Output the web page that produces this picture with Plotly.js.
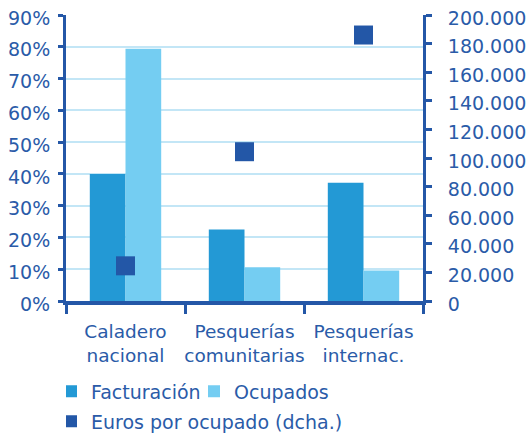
<!DOCTYPE html>
<html>
<head>
<meta charset="utf-8">
<script src="https://cdn.plot.ly/plotly-3.0.1.min.js"></script>
<style>
  html, body { margin: 0; padding: 0; background: #fff; }
  #chart { width: 528px; height: 435px; }
</style>
</head>
<body>
<div id="chart"></div>
<script>
// Data
const categories = ['Caladero<br>nacional', 'Pesquerías<br>comunitarias', 'Pesquerías<br>internac.'];
const facturacion = [40.0, 22.5, 37.2];      // % (left axis)
const ocupados = [79.4, 10.6, 9.6];          // % (left axis)
const eurosPorOcupado = [24600, 104400, 186000]; // euros (right axis)

const leftTicks = [0, 10, 20, 30, 40, 50, 60, 70, 80, 90];
const rightTicks = [0, 20000, 40000, 60000, 80000, 100000, 120000, 140000, 160000, 180000, 200000];

const txt = '#2A5BA8';
const axisCol = '#2457A7';
const font = 'DejaVu Sans, Verdana, sans-serif';

const traces = [
  { type: 'bar', name: 'Facturación', x: categories, y: facturacion,
    marker: { color: '#2399D5' }, hoverinfo: 'skip', legend: 'legend' },
  { type: 'bar', name: 'Ocupados', x: categories, y: ocupados,
    marker: { color: '#74CDF2' }, hoverinfo: 'skip', legend: 'legend' },
  { type: 'scatter', mode: 'markers', name: 'Euros por ocupado (dcha.)',
    x: categories, y: eurosPorOcupado, yaxis: 'y2', legend: 'legend2',
    marker: { symbol: 'square', size: 19, color: '#2357A7' }, hoverinfo: 'skip' }
];

const legendBase = {
  orientation: 'h', xref: 'paper', yref: 'container',
  x: 0, xanchor: 'left', yanchor: 'top',
  indentation: -15, itemsizing: 'constant',
  font: { family: font, size: 19, color: txt },
  bgcolor: 'rgba(0,0,0,0)', traceorder: 'normal', itemwidth: 30
};

const layout = {
  width: 528, height: 435,
  margin: { l: 66, r: 105, t: 15, b: 134, pad: 0 },
  paper_bgcolor: '#fff', plot_bgcolor: '#fff',
  separators: ',.',
  font: { family: font, size: 19, color: txt },
  barmode: 'group', bargap: 0.4, bargroupgap: 0,
  showlegend: true,
  legend: Object.assign({}, legendBase, { y: 0.144, entrywidth: 113, entrywidthmode: 'pixels' }),
  legend2: Object.assign({}, legendBase, { y: 0.075 }),
  xaxis: {
    type: 'category', tickson: 'boundaries', tickangle: 0,
    showline: true, linecolor: axisCol, linewidth: 4,
    ticks: 'outside', ticklen: 9, tickwidth: 3, tickcolor: axisCol,
    ticklabelstandoff: 11,
    tickfont: { family: font, size: 18.5, color: txt },
    showgrid: false, zeroline: false, fixedrange: true
  },
  yaxis: {
    range: [0, 90], tickvals: leftTicks, ticktext: leftTicks.map(v => v + '%'),
    showline: true, linecolor: axisCol, linewidth: 3,
    ticks: 'outside', ticklen: 5, tickwidth: 3, tickcolor: axisCol,
    ticklabelstandoff: 4, ticklabelshift: 3,
    showgrid: true, gridcolor: '#C3E6F6', gridwidth: 2,
    zeroline: false, tickfont: { family: font, size: 19, color: txt },
    fixedrange: true
  },
  yaxis2: {
    range: [0, 200000], overlaying: 'y', side: 'right',
    tickvals: rightTicks, tickformat: ',d',
    showline: true, linecolor: axisCol, linewidth: 3,
    ticks: 'outside', ticklen: 6, tickwidth: 3, tickcolor: axisCol,
    ticklabelstandoff: 12, ticklabelshift: 3,
    showgrid: false, zeroline: false,
    tickfont: { family: font, size: 19, color: txt },
    fixedrange: true
  }
};

Plotly.newPlot('chart', traces, layout, { displayModeBar: false, staticPlot: true });
</script>
</body>
</html>
